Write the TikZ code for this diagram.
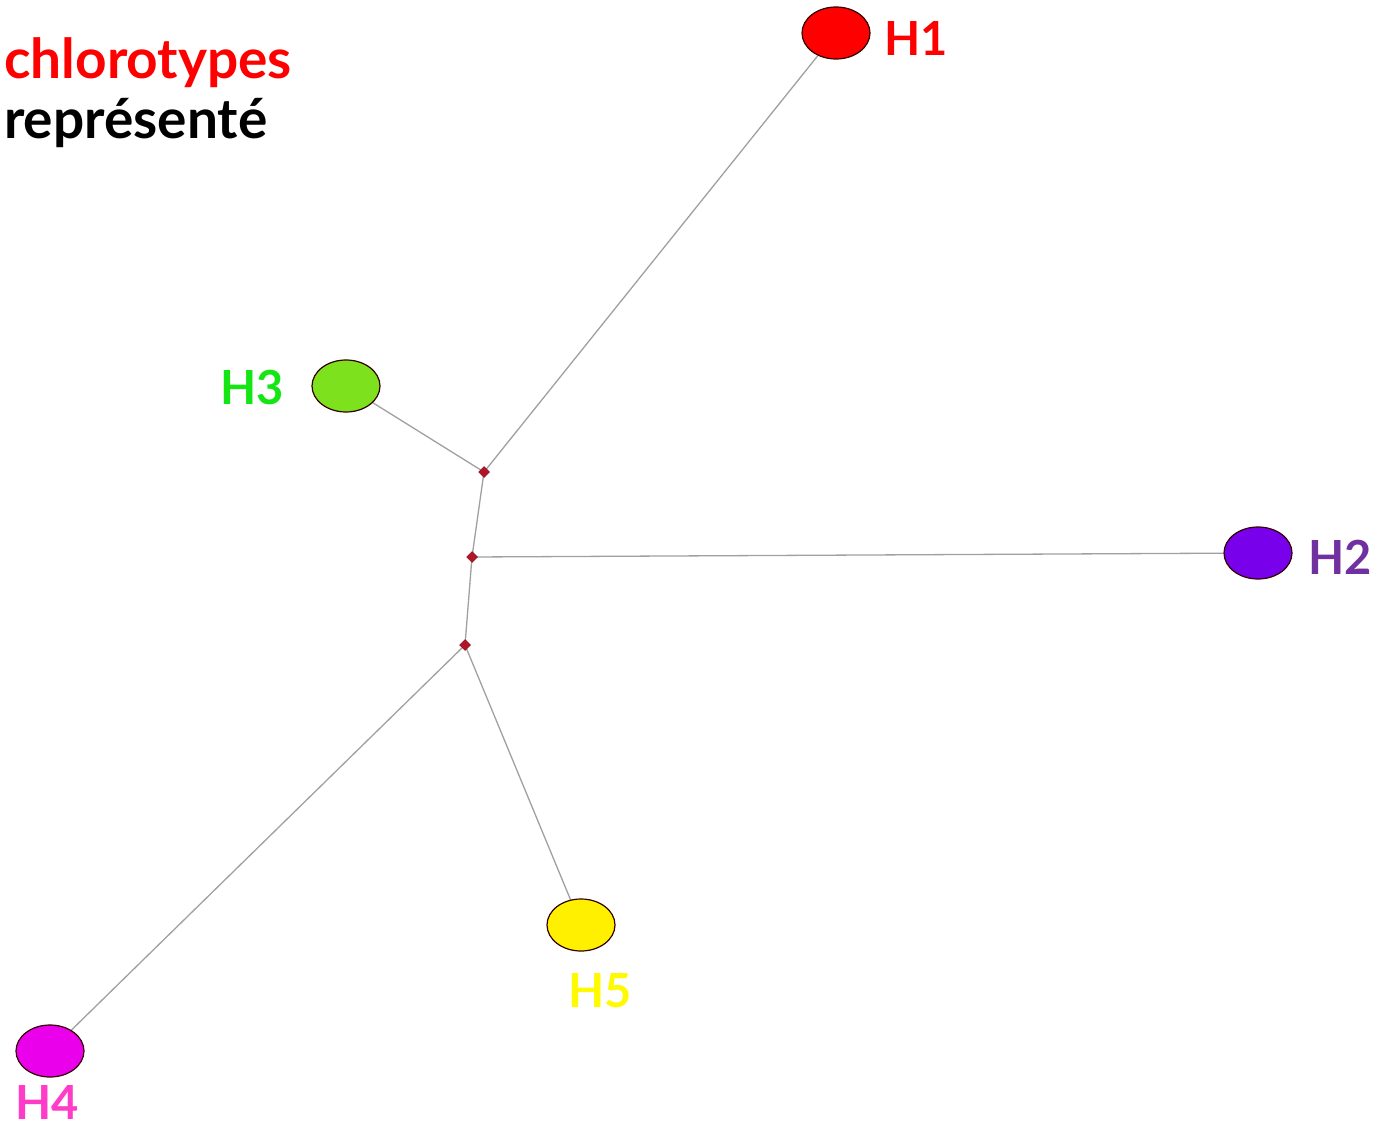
\documentclass[tikz,border=0pt]{standalone}
\usepackage{fontspec}
\setmainfont{Lato}
\usetikzlibrary{shapes.geometric,backgrounds}
\definecolor{hred}{RGB}{255,0,0}
\definecolor{hpurple}{RGB}{120,0,235}
\definecolor{hpurpletxt}{RGB}{112,48,160}
\definecolor{hgreen}{RGB}{125,225,30}
\definecolor{hgreentxt}{RGB}{20,230,20}
\definecolor{hmag}{RGB}{235,0,235}
\definecolor{hmagtxt}{RGB}{255,60,200}
\definecolor{hyel}{RGB}{255,240,0}
\definecolor{hyeltxt}{RGB}{255,250,0}
\definecolor{edgegray}{RGB}{160,160,160}
\definecolor{dred}{RGB}{180,20,40}
\tikzset{
  hap/.style={ellipse, draw=black!80!red, line width=1.2pt, minimum width=68pt, minimum height=52pt, inner sep=0pt},
  med/.style={diamond, fill=dred, draw=dred!70!black, line width=0.5pt, minimum width=11pt, minimum height=11pt, inner sep=0pt},
  link/.style={draw=edgegray, line width=1.3pt},
  hlab/.style={font=\bfseries\fontsize{47}{50}\selectfont, inner sep=0pt},
  ttl/.style={font=\bfseries\fontsize{55}{60}\selectfont, inner sep=0pt, anchor=base west}
}
\begin{document}
\begin{tikzpicture}[x=1pt,y=-1pt]
\useasboundingbox (0,0) rectangle (1390,1129);
% mediators
\node[med] (d1) at (484,472) {};
\node[med] (d2) at (472,557) {};
\node[med] (d3) at (465,645) {};
% haplotypes
\node[hap, fill=hred] (h1) at (836,33) {};
\node[hap, fill=hpurple] (h2) at (1258,553) {};
\node[hap, fill=hgreen] (h3) at (346,386) {};
\node[hap, fill=hmag] (h4) at (50,1051) {};
\node[hap, fill=hyel] (h5) at (581,925) {};
% links
\begin{pgfonlayer}{background}
\draw[link] (h1) -- (d1.center);
\draw[link] (h3) -- (d1.center);
\draw[link] (d1.center) -- (d2.center);
\draw[link] (d2.center) -- (h2);
\draw[link] (d2.center) -- (d3.center);
\draw[link] (d3.center) -- (h4);
\draw[link] (d3.center) -- (h5);
\end{pgfonlayer}
% labels
\node[hlab, text=hred, anchor=west] (l1) at (884,38) {H1};
\node[hlab, text=hpurpletxt, anchor=west] (l2) at (1308,557) {H2};
\node[hlab, text=hgreentxt, anchor=east] (l3) at (284,388) {H3};
\node[hlab, text=hmagtxt] (l4) at (47,1102) {H4};
\node[hlab, text=hyeltxt] (l5) at (600,991) {H5};
% title
\node[ttl, text=red] (t1) at (4,79) {chlorotypes};
\node[ttl, text=black] (t2) at (4,139) {représenté};
\end{tikzpicture}
\end{document}
